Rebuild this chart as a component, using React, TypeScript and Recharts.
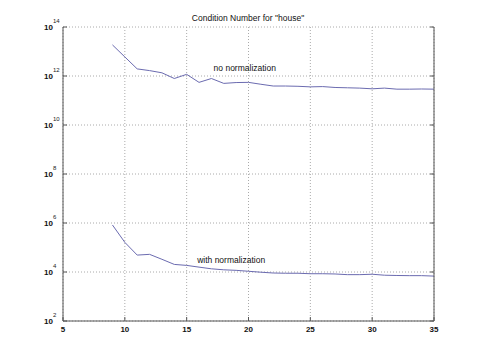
import { LineChart, Line, XAxis, YAxis, CartesianGrid, ReferenceDot } from 'recharts';

// matrix size
const sizes = [9, 10, 11, 12, 13, 14, 15, 16, 17, 18, 19, 20, 21, 22, 23, 24, 25, 26, 27, 28, 29, 30, 31, 32, 33, 34, 35];

const noNormalization = [
  1.86e13, 6.0e12, 1.95e12, 1.66e12, 1.35e12, 7.9e11, 1.17e12, 5.5e11, 7.9e11, 5.0e11, 5.4e11, 5.5e11, 4.6e11, 3.9e11,
  3.9e11, 3.8e11, 3.6e11, 3.7e11, 3.4e11, 3.3e11, 3.2e11, 3.0e11, 3.2e11, 2.9e11, 2.9e11, 2.95e11, 2.9e11,
];

const withNormalization = [
  8.3e5, 1.62e5, 4.9e4, 5.25e4, 3.3e4, 2.04e4, 1.86e4, 1.58e4, 1.35e4, 1.23e4, 1.17e4, 1.07e4, 9.8e3, 9.1e3, 8.9e3,
  8.9e3, 8.5e3, 8.5e3, 8.3e3, 7.8e3, 7.8e3, 8.1e3, 7.4e3, 7.2e3, 7.1e3, 7.1e3, 6.8e3,
];

const xTicks = [5, 10, 15, 20, 25, 30, 35];
const yTicks = [1e2, 1e4, 1e6, 1e8, 1e10, 1e12, 1e14];

const data = sizes.map((n, i) => ({ n, raw: noNormalization[i], norm: withNormalization[i] }));

const FONT = '"Liberation Sans", Arial, sans-serif';
const BOX = '#555';
const LINE = '#6b6bb0';

const BottomTick = (props: any) => {
  const { x, y, payload } = props;
  return (
    <g>
      <line x1={x} x2={x} y1={y} y2={y - 4} stroke={BOX} />
      <text x={x} y={y + 11} textAnchor="middle" fontSize={8} fontWeight="bold" fill="#111" fontFamily={FONT}>
        {payload.value}
      </text>
    </g>
  );
};

const LeftTick = (props: any) => {
  const { x, y, payload } = props;
  const exp = Math.round(Math.log10(payload.value));
  return (
    <g>
      <line x1={x} x2={x + 4} y1={y} y2={y} stroke={BOX} />
      <text x={x - 10} y={y + 3} textAnchor="end" fontSize={8} fontWeight="bold" fill="#111" fontFamily={FONT}>
        10
      </text>
      <text x={x - 10} y={y - 4} textAnchor="start" fontSize={6} fill="#222" fontFamily={FONT}>
        {exp}
      </text>
    </g>
  );
};

const TopTick = (props: any) => {
  const { x, y } = props;
  return <line x1={x} x2={x} y1={y} y2={y + 4} stroke={BOX} />;
};

const RightTick = (props: any) => {
  const { x, y } = props;
  return <line x1={x} x2={x - 4} y1={y} y2={y} stroke={BOX} />;
};

export default function App() {
  return (
    <div style={{ position: 'absolute', left: 0, top: 0, width: 480, height: 360, background: '#fff' }}>
      <svg width={480} height={30} style={{ position: 'absolute', left: 0, top: 0 }}>
        <text x={248} y={21} textAnchor="middle" fontSize={8.5} fill="#111" fontFamily={FONT}>
          Condition Number for "house"
        </text>
      </svg>
      <LineChart width={480} height={360} data={data} margin={{ top: 27, right: 0, bottom: 0, left: 0 }}>
        <CartesianGrid xAxisId="b" yAxisId="l" stroke="#aaa" strokeDasharray="1 2" />
        <XAxis
          xAxisId="b"
          dataKey="n"
          type="number"
          domain={[5, 35]}
          ticks={xTicks}
          interval={0}
          height={39}
          tickSize={0}
          tickMargin={0}
          tick={<BottomTick />}
          stroke={BOX}
        />
        <XAxis
          xAxisId="t"
          orientation="top"
          dataKey="n"
          type="number"
          domain={[5, 35]}
          ticks={xTicks}
          interval={0}
          height={0}
          tickSize={0}
          tickMargin={0}
          tick={<TopTick />}
          stroke={BOX}
        />
        <YAxis
          yAxisId="l"
          type="number"
          scale="log"
          domain={[1e2, 1e14]}
          ticks={yTicks}
          interval={0}
          allowDataOverflow
          width={63}
          tickSize={0}
          tickMargin={0}
          tick={<LeftTick />}
          stroke={BOX}
        />
        <YAxis
          yAxisId="r"
          orientation="right"
          type="number"
          scale="log"
          domain={[1e2, 1e14]}
          ticks={yTicks}
          interval={0}
          allowDataOverflow
          width={46}
          tickSize={0}
          tickMargin={0}
          tick={<RightTick />}
          stroke={BOX}
        />
        <Line
          xAxisId="b"
          yAxisId="l"
          dataKey="raw"
          stroke={LINE}
          strokeWidth={1}
          dot={false}
          type="linear"
          isAnimationActive={false}
        />
        <Line
          xAxisId="b"
          yAxisId="l"
          dataKey="norm"
          stroke={LINE}
          strokeWidth={1}
          dot={false}
          type="linear"
          isAnimationActive={false}
        />
        <ReferenceDot
          xAxisId="b"
          yAxisId="l"
          x={19.7}
          y={2.1e12}
          r={1}
          fill="none"
          stroke="none"
          label={{ value: 'no normalization', position: 'center', fontSize: 8.5, fill: '#111', fontFamily: FONT }}
        />
        <ReferenceDot
          xAxisId="b"
          yAxisId="l"
          x={18.6}
          y={3.2e4}
          r={1}
          fill="none"
          stroke="none"
          label={{ value: 'with normalization', position: 'center', fontSize: 8.5, fill: '#111', fontFamily: FONT }}
        />
      </LineChart>
    </div>
  );
}
